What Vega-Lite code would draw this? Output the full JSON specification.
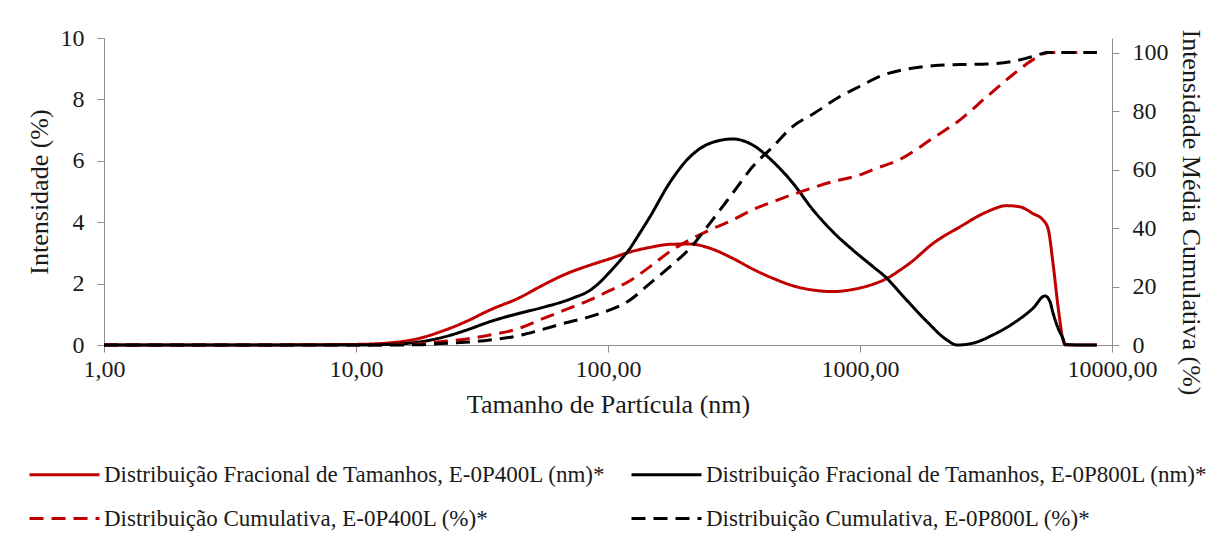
{
  "$schema": "https://vega.github.io/schema/vega-lite/v6.json",
  "width": 1008,
  "height": 307,
  "autosize": {"type": "none"},
  "padding": {"left": 104, "top": 38, "right": 96, "bottom": 188},
  "background": "white",
  "config": {
    "font": "Liberation Serif",
    "view": {"stroke": null},
    "axis": {"grid": false, "domainColor": "#8c8c8c", "tickColor": "#8c8c8c", "tickSize": 7, "labelColor": "#1a1a1a", "titleColor": "#1a1a1a", "labelFontSize": 24, "titleFontSize": 26, "titleFontWeight": "normal", "labelFont": "Liberation Serif", "titleFont": "Liberation Serif"},
    "legend": {"labelFont": "Liberation Serif", "labelFontSize": 23, "labelColor": "#1a1a1a"}
  },
  "data": {"values": [
    {"s":"F400","d":1,"v":0},{"s":"F400","d":3.16,"v":0},{"s":"F400","d":10,"v":0.02},{"s":"F400","d":13.6,"v":0.07},{"s":"F400","d":17.9,"v":0.22},{"s":"F400","d":21.6,"v":0.43},{"s":"F400","d":27.1,"v":0.75},{"s":"F400","d":34,"v":1.14},{"s":"F400","d":44.8,"v":1.55},{"s":"F400","d":53.7,"v":1.9},{"s":"F400","d":67.5,"v":2.3},{"s":"F400","d":84.8,"v":2.6},{"s":"F400","d":100.9,"v":2.8},{"s":"F400","d":122.3,"v":3.03},{"s":"F400","d":146.8,"v":3.18},{"s":"F400","d":176.2,"v":3.28},{"s":"F400","d":211.5,"v":3.29},{"s":"F400","d":254,"v":3.15},{"s":"F400","d":313,"v":2.82},{"s":"F400","d":376,"v":2.47},{"s":"F400","d":452,"v":2.17},{"s":"F400","d":542,"v":1.93},{"s":"F400","d":651,"v":1.79},{"s":"F400","d":782,"v":1.74},{"s":"F400","d":938,"v":1.81},{"s":"F400","d":1127,"v":1.98},{"s":"F400","d":1280,"v":2.17},{"s":"F400","d":1442,"v":2.44},{"s":"F400","d":1579,"v":2.67},{"s":"F400","d":1950,"v":3.31},{"s":"F400","d":2495,"v":3.85},{"s":"F400","d":3192,"v":4.34},{"s":"F400","d":3832,"v":4.54},{"s":"F400","d":4315,"v":4.5},{"s":"F400","d":4861,"v":4.28},{"s":"F400","d":5326,"v":4.07},{"s":"F400","d":5573,"v":3.8},{"s":"F400","d":5834,"v":2.66},{"s":"F400","d":6108,"v":1.25},{"s":"F400","d":6397,"v":0.16},{"s":"F400","d":6516,"v":0},{"s":"F400","d":7465,"v":0},{"s":"F400","d":8710,"v":0},
    {"s":"F800","d":1,"v":0},{"s":"F800","d":3.16,"v":0},{"s":"F800","d":10,"v":0},{"s":"F800","d":13.6,"v":0.02},{"s":"F800","d":17.9,"v":0.1},{"s":"F800","d":21.6,"v":0.23},{"s":"F800","d":27.1,"v":0.47},{"s":"F800","d":34,"v":0.76},{"s":"F800","d":44.8,"v":1.04},{"s":"F800","d":53.7,"v":1.2},{"s":"F800","d":72.6,"v":1.53},{"s":"F800","d":84.8,"v":1.78},{"s":"F800","d":93,"v":2.05},{"s":"F800","d":100.9,"v":2.35},{"s":"F800","d":111.6,"v":2.75},{"s":"F800","d":122.3,"v":3.15},{"s":"F800","d":130.3,"v":3.5},{"s":"F800","d":146.8,"v":4.18},{"s":"F800","d":176.2,"v":5.3},{"s":"F800","d":211.5,"v":6.13},{"s":"F800","d":254,"v":6.57},{"s":"F800","d":313,"v":6.71},{"s":"F800","d":376,"v":6.51},{"s":"F800","d":452,"v":5.97},{"s":"F800","d":542,"v":5.27},{"s":"F800","d":651,"v":4.4},{"s":"F800","d":782,"v":3.68},{"s":"F800","d":938,"v":3.09},{"s":"F800","d":1127,"v":2.55},{"s":"F800","d":1280,"v":2.17},{"s":"F800","d":1442,"v":1.7},{"s":"F800","d":1845,"v":0.76},{"s":"F800","d":2215,"v":0.16},{"s":"F800","d":2427,"v":0},{"s":"F800","d":2806,"v":0.06},{"s":"F800","d":3373,"v":0.33},{"s":"F800","d":4048,"v":0.7},{"s":"F800","d":4861,"v":1.2},{"s":"F800","d":5423,"v":1.6},{"s":"F800","d":5676,"v":1.41},{"s":"F800","d":5834,"v":1.04},{"s":"F800","d":6108,"v":0.55},{"s":"F800","d":6397,"v":0.2},{"s":"F800","d":6516,"v":0.02},{"s":"F800","d":7465,"v":0},{"s":"F800","d":8710,"v":0},
    {"s":"C400","d":1,"v":0},{"s":"C400","d":3.16,"v":0},{"s":"C400","d":10,"v":0},{"s":"C400","d":13.6,"v":0.1},{"s":"C400","d":17.9,"v":0.4},{"s":"C400","d":21.6,"v":1.1},{"s":"C400","d":27.1,"v":2.0},{"s":"C400","d":34,"v":3.4},{"s":"C400","d":44.8,"v":5.8},{"s":"C400","d":53.7,"v":8.6},{"s":"C400","d":67.5,"v":12},{"s":"C400","d":84.8,"v":15.4},{"s":"C400","d":100.9,"v":18.5},{"s":"C400","d":122.3,"v":22},{"s":"C400","d":146.8,"v":26.8},{"s":"C400","d":176.2,"v":32},{"s":"C400","d":211.5,"v":36},{"s":"C400","d":254,"v":39.4},{"s":"C400","d":313,"v":42.8},{"s":"C400","d":376,"v":46.3},{"s":"C400","d":452,"v":49},{"s":"C400","d":542,"v":51.5},{"s":"C400","d":651,"v":53.8},{"s":"C400","d":782,"v":55.9},{"s":"C400","d":1000,"v":58.2},{"s":"C400","d":1127,"v":60},{"s":"C400","d":1442,"v":63.5},{"s":"C400","d":1950,"v":70.8},{"s":"C400","d":2495,"v":77},{"s":"C400","d":3192,"v":85},{"s":"C400","d":4048,"v":92.5},{"s":"C400","d":4861,"v":97.6},{"s":"C400","d":5573,"v":100},{"s":"C400","d":6516,"v":100},{"s":"C400","d":7465,"v":100},{"s":"C400","d":8710,"v":100},
    {"s":"C800","d":1,"v":0},{"s":"C800","d":3.16,"v":0},{"s":"C800","d":10,"v":0},{"s":"C800","d":13.6,"v":0},{"s":"C800","d":17.9,"v":0.1},{"s":"C800","d":21.6,"v":0.5},{"s":"C800","d":27.1,"v":0.9},{"s":"C800","d":34,"v":1.7},{"s":"C800","d":44.8,"v":3.3},{"s":"C800","d":53.7,"v":5.1},{"s":"C800","d":67.5,"v":7.5},{"s":"C800","d":84.8,"v":9.7},{"s":"C800","d":93,"v":10.8},{"s":"C800","d":122.3,"v":15.4},{"s":"C800","d":146.8,"v":21.1},{"s":"C800","d":176.2,"v":26.8},{"s":"C800","d":211.5,"v":33.1},{"s":"C800","d":254,"v":41.7},{"s":"C800","d":313,"v":52},{"s":"C800","d":376,"v":61.1},{"s":"C800","d":452,"v":67.9},{"s":"C800","d":542,"v":74.8},{"s":"C800","d":651,"v":79},{"s":"C800","d":833,"v":85},{"s":"C800","d":1000,"v":88.5},{"s":"C800","d":1200,"v":91.9},{"s":"C800","d":1538,"v":94.4},{"s":"C800","d":1950,"v":95.5},{"s":"C800","d":2495,"v":95.9},{"s":"C800","d":3192,"v":96.1},{"s":"C800","d":4048,"v":97},{"s":"C800","d":4861,"v":98.7},{"s":"C800","d":5573,"v":100},{"s":"C800","d":6516,"v":100},{"s":"C800","d":7465,"v":100},{"s":"C800","d":8710,"v":100}
  ]},
  "encoding": {
    "x": {"field": "d", "type": "quantitative", "scale": {"type": "log", "domain": [1, 10000], "nice": false},
      "axis": {"values": [1, 10, 100, 1000, 10000], "labelExpr": "replace(format(datum.value, '.2f'), '.', ',')", "title": "Tamanho de Partícula (nm)", "labelPadding": 5, "titlePadding": 10, "labelFlush": false}},
    "color": {"field": "s", "type": "nominal", "title": null,
      "scale": {"domain": ["F400", "F800", "C400", "C800"], "range": ["#C00000", "#000000", "#C00000", "#000000"]},
      "legend": {"orient": "none", "legendX": -79, "legendY": 425, "columns": 2, "direction": "horizontal", "symbolType": "M-5,0H5", "symbolSize": 196, "symbolOffset": 28, "symbolStrokeWidth": 3, "labelLimit": 700, "labelOffset": 28, "columnPadding": 19, "rowPadding": 20,
        "labelExpr": "datum.label == 'F400' ? 'Distribuição Fracional de Tamanhos, E-0P400L (nm)*' : datum.label == 'F800' ? 'Distribuição Fracional de Tamanhos, E-0P800L (nm)*' : datum.label == 'C400' ? 'Distribuição Cumulativa, E-0P400L (%)*' : 'Distribuição Cumulativa, E-0P800L (%)*'"}},
    "strokeDash": {"field": "s", "type": "nominal", "title": null,
      "scale": {"domain": ["F400", "F800", "C400", "C800"], "range": [[1, 0], [1, 0], [14, 8], [14, 8]]},
      "legend": {"orient": "none", "legendX": -79, "legendY": 425, "columns": 2, "direction": "horizontal", "symbolType": "M-5,0H5", "symbolSize": 196, "symbolOffset": 28, "symbolStrokeWidth": 3, "labelLimit": 700, "labelOffset": 28, "columnPadding": 19, "rowPadding": 20,
        "labelExpr": "datum.label == 'F400' ? 'Distribuição Fracional de Tamanhos, E-0P400L (nm)*' : datum.label == 'F800' ? 'Distribuição Fracional de Tamanhos, E-0P800L (nm)*' : datum.label == 'C400' ? 'Distribuição Cumulativa, E-0P400L (%)*' : 'Distribuição Cumulativa, E-0P800L (%)*'"}}
  },
  "layer": [
    {
      "transform": [{"filter": "datum.s == 'F400' || datum.s == 'F800'"}],
      "mark": {"type": "line", "strokeWidth": 3, "interpolate": "monotone"},
      "encoding": {
        "y": {"field": "v", "type": "quantitative", "scale": {"domain": [0, 10], "nice": false},
          "axis": {"orient": "left", "values": [0, 2, 4, 6, 8, 10], "format": "d", "title": "Intensidade (%)", "labelPadding": 13, "titlePadding": 8}}
      }
    },
    {
      "transform": [{"filter": "datum.s == 'C400' || datum.s == 'C800'"}],
      "mark": {"type": "line", "strokeWidth": 3, "interpolate": "monotone"},
      "encoding": {
        "y": {"field": "v", "type": "quantitative", "scale": {"domain": [0, 105], "nice": false},
          "axis": {"orient": "right", "values": [0, 20, 40, 60, 80, 100], "format": "d", "title": "Intensidade Média Cumulativa (%)", "labelPadding": 13, "titlePadding": 9, "titleY": 174}}
      }
    }
  ],
  "resolve": {"scale": {"y": "independent"}}
}
